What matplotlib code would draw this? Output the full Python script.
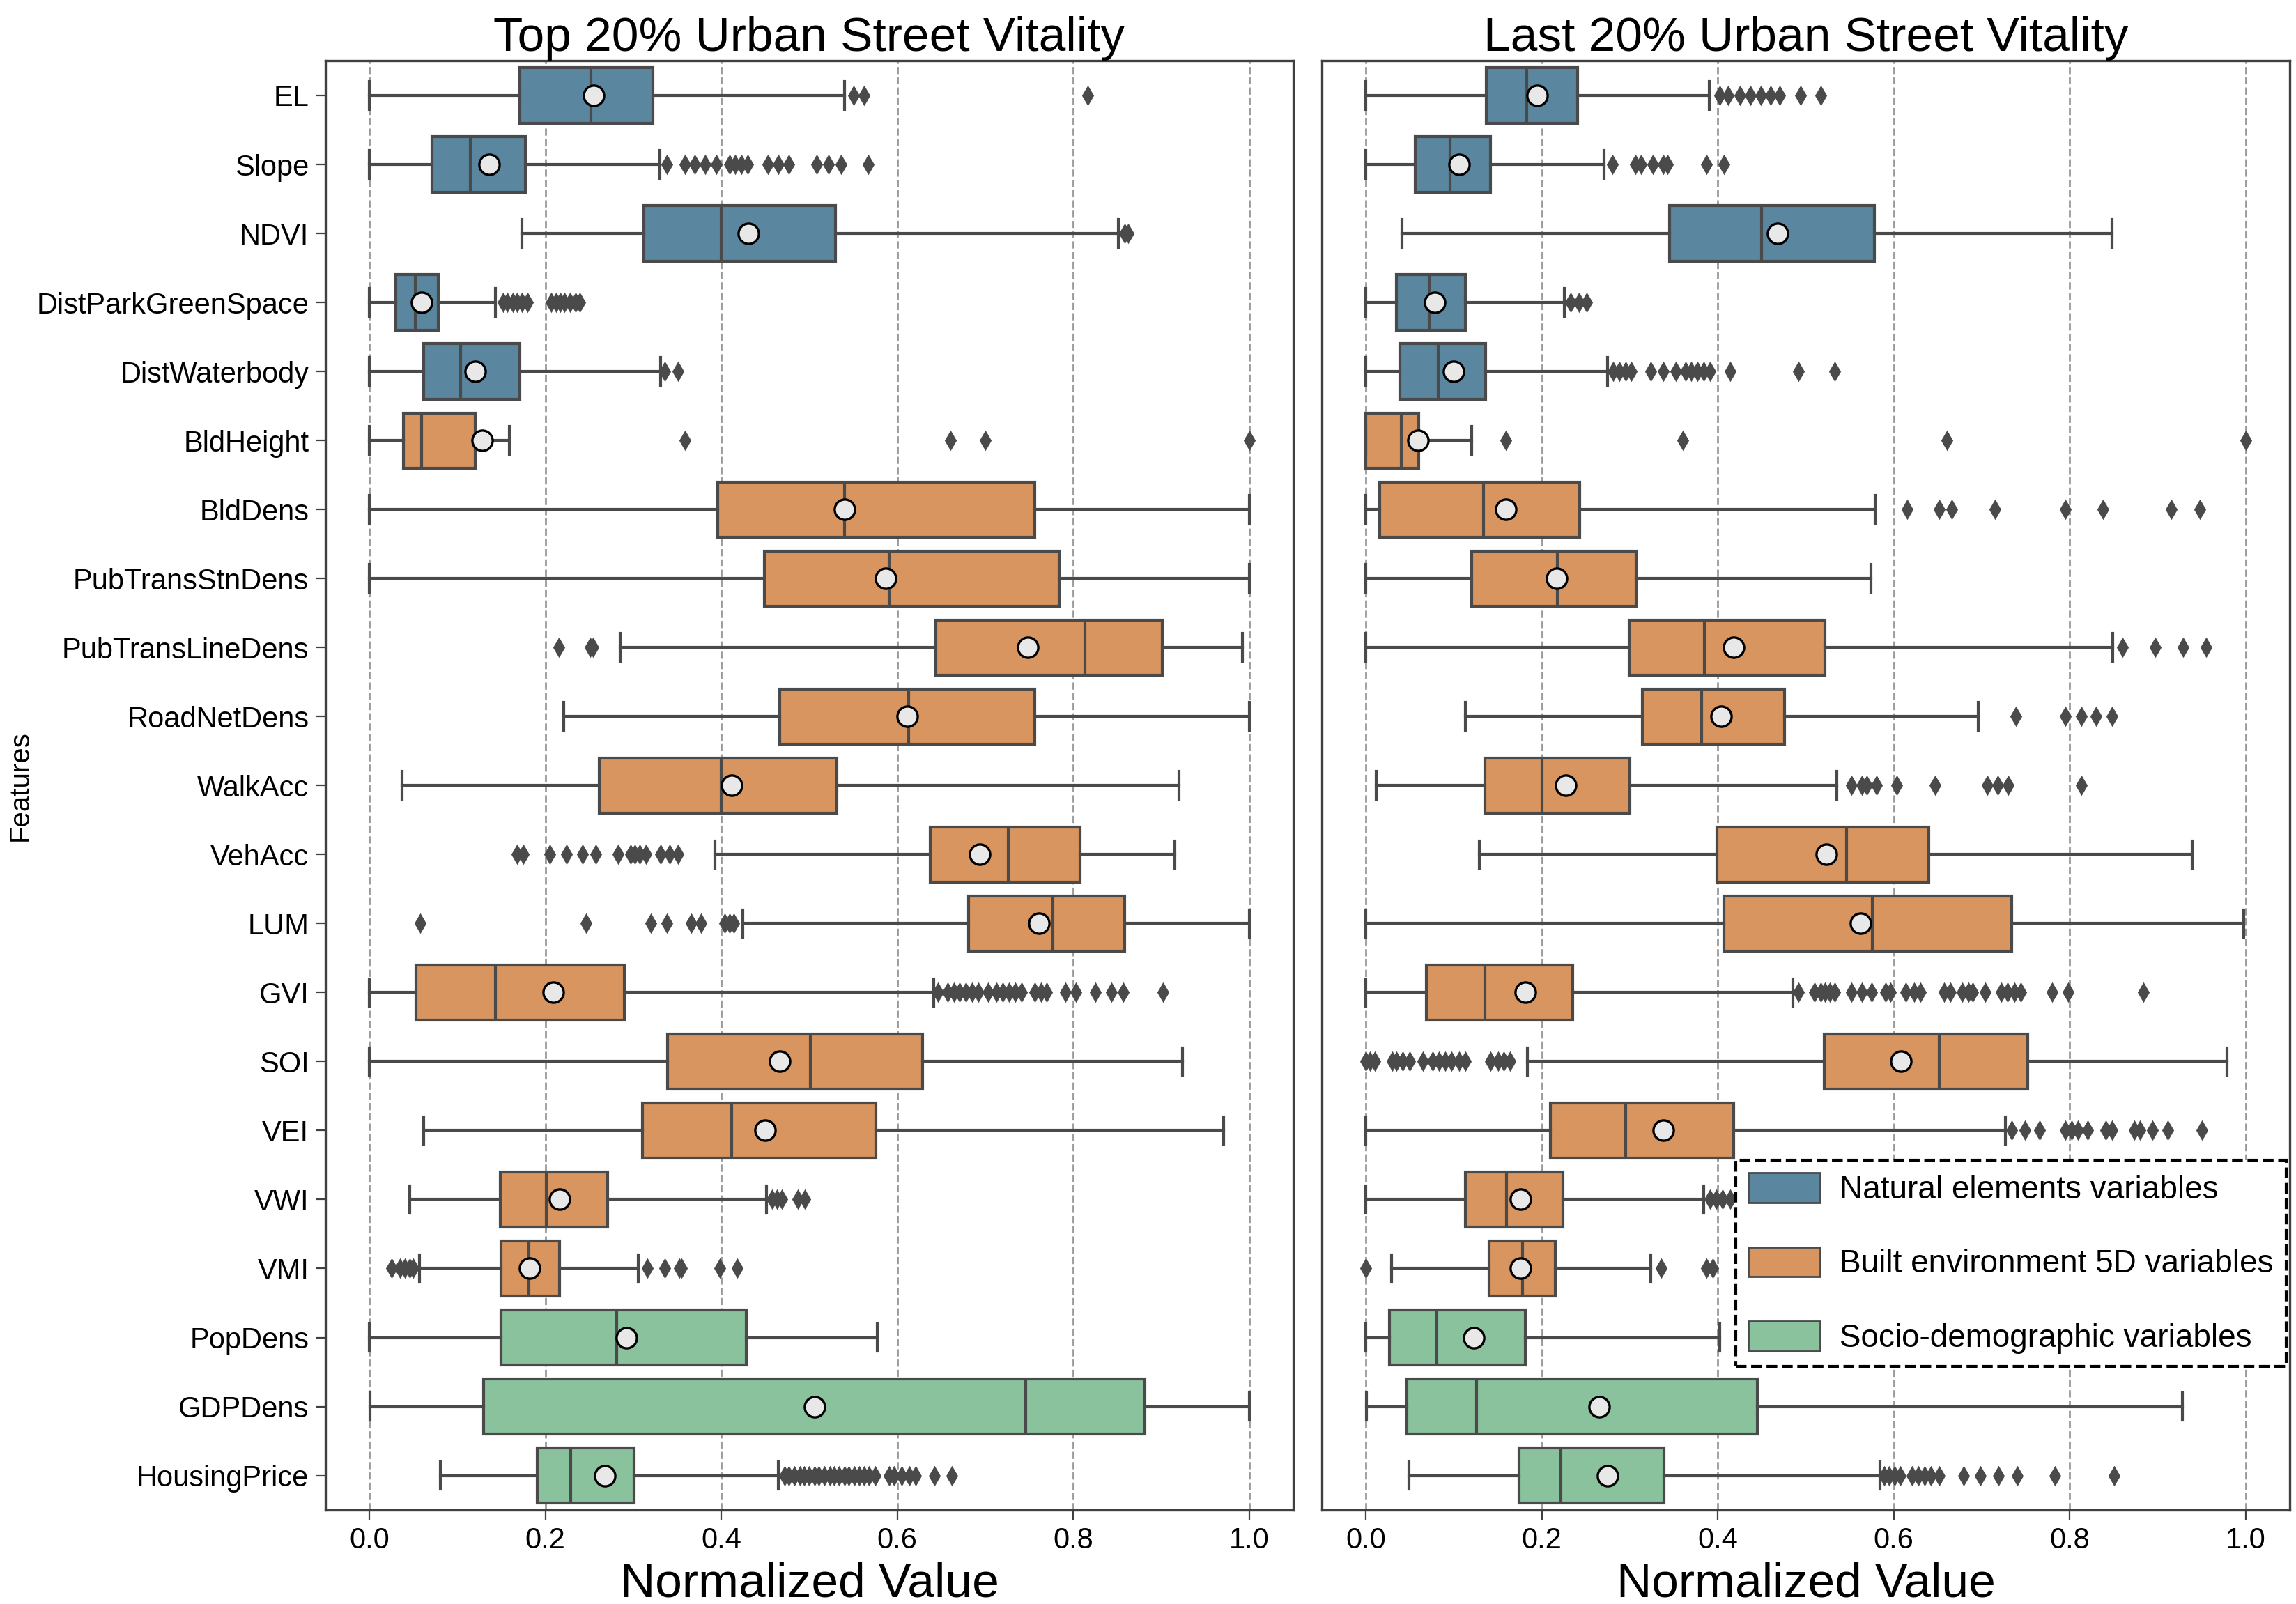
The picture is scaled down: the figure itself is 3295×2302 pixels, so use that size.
import matplotlib
matplotlib.use('Agg')
import matplotlib.pyplot as plt
from matplotlib.patches import Patch

plt.rcParams['font.family'] = ['Liberation Sans', 'DejaVu Sans']

features = ['EL', 'Slope', 'NDVI', 'DistParkGreenSpace', 'DistWaterbody',
            'BldHeight', 'BldDens', 'PubTransStnDens', 'PubTransLineDens',
            'RoadNetDens', 'WalkAcc', 'VehAcc', 'LUM', 'GVI', 'SOI', 'VEI',
            'VWI', 'VMI', 'PopDens', 'GDPDens', 'HousingPrice']
groups = ['natural'] * 5 + ['built'] * 13 + ['socio'] * 3

group_colors = {'natural': '#5a879f', 'built': '#d8955f', 'socio': '#8ac29e'}
group_labels = {'natural': 'Natural elements variables',
                'built': 'Built environment 5D variables',
                'socio': 'Socio-demographic variables'}

# Top 20% urban street vitality
top_whislo = [0.0, 0.0, 0.173, 0.0, 0.0, 0.0, 0.0, 0.0, 0.285, 0.221, 0.037,
              0.393, 0.424, 0.0, 0.0, 0.062, 0.046, 0.057, 0.0, 0.001, 0.081]
top_q1 = [0.171, 0.071, 0.312, 0.030, 0.062, 0.039, 0.396, 0.449, 0.644, 0.466, 0.261,
          0.637, 0.681, 0.053, 0.339, 0.310, 0.149, 0.150, 0.150, 0.130, 0.191]
top_med = [0.252, 0.115, 0.400, 0.052, 0.104, 0.059, 0.540, 0.591, 0.813, 0.613, 0.400,
           0.726, 0.777, 0.143, 0.501, 0.412, 0.201, 0.181, 0.281, 0.746, 0.229]
top_q3 = [0.322, 0.177, 0.530, 0.078, 0.171, 0.120, 0.756, 0.784, 0.901, 0.756, 0.531,
          0.808, 0.858, 0.290, 0.629, 0.576, 0.271, 0.216, 0.428, 0.881, 0.301]
top_whishi = [0.540, 0.330, 0.851, 0.143, 0.331, 0.159, 1.0, 1.0, 0.992, 1.0, 0.920,
              0.915, 1.0, 0.641, 0.924, 0.971, 0.451, 0.306, 0.577, 1.0, 0.465]
top_mean = [0.255, 0.136, 0.431, 0.059, 0.120, 0.128, 0.540, 0.587, 0.748, 0.611, 0.412,
            0.694, 0.761, 0.209, 0.466, 0.450, 0.216, 0.182, 0.292, 0.506, 0.268]
top_fliers = [
    [0.550, 0.562, 0.816],
    [0.338, 0.359, 0.370, 0.382, 0.394, 0.409, 0.416, 0.423, 0.430, 0.453, 0.465,
     0.477, 0.508, 0.522, 0.536, 0.567],
    [0.858, 0.862],
    [0.152, 0.157, 0.163, 0.168, 0.173, 0.180, 0.207, 0.212, 0.217, 0.222, 0.228,
     0.234, 0.239],
    [0.336, 0.351],
    [0.359, 0.660, 0.700, 1.0],
    [],
    [],
    [0.215, 0.251, 0.254],
    [],
    [],
    [0.168, 0.175, 0.205, 0.224, 0.242, 0.257, 0.283, 0.297, 0.302, 0.307, 0.314,
     0.331, 0.341, 0.351],
    [0.058, 0.246, 0.320, 0.338, 0.366, 0.377, 0.404, 0.409, 0.414],
    [0.646, 0.657, 0.664, 0.671, 0.678, 0.685, 0.692, 0.703, 0.713, 0.720, 0.727,
     0.734, 0.741, 0.756, 0.763, 0.770, 0.791, 0.803, 0.825, 0.843, 0.857, 0.902],
    [],
    [],
    [0.458, 0.463, 0.469, 0.487, 0.495],
    [0.025, 0.035, 0.040, 0.046, 0.050, 0.316, 0.336, 0.352, 0.355, 0.398, 0.418],
    [],
    [],
    [0.472, 0.477, 0.483, 0.489, 0.494, 0.500, 0.506, 0.511, 0.517, 0.523, 0.528,
     0.534, 0.540, 0.545, 0.551, 0.557, 0.562, 0.568, 0.575, 0.591, 0.596, 0.605,
     0.614, 0.621, 0.642, 0.662],
]

# Last 20% urban street vitality
last_whislo = [0.0, 0.0, 0.041, 0.0, 0.0, 0.0, 0.0, 0.0, 0.0, 0.113, 0.012,
               0.129, 0.0, 0.0, 0.184, 0.0, 0.0, 0.029, 0.0, 0.001, 0.049]
last_q1 = [0.137, 0.056, 0.345, 0.035, 0.039, 0.0, 0.016, 0.120, 0.299, 0.314, 0.135,
           0.399, 0.407, 0.069, 0.521, 0.210, 0.113, 0.140, 0.027, 0.047, 0.174]
last_med = [0.183, 0.096, 0.450, 0.072, 0.082, 0.040, 0.134, 0.218, 0.385, 0.382, 0.200,
            0.546, 0.576, 0.135, 0.652, 0.295, 0.160, 0.178, 0.081, 0.126, 0.222]
last_q3 = [0.241, 0.142, 0.578, 0.113, 0.136, 0.060, 0.243, 0.307, 0.522, 0.476, 0.300,
           0.640, 0.734, 0.235, 0.752, 0.418, 0.224, 0.215, 0.181, 0.445, 0.339]
last_whishi = [0.390, 0.271, 0.848, 0.226, 0.275, 0.120, 0.579, 0.574, 0.849, 0.696, 0.535,
               0.939, 0.998, 0.485, 0.979, 0.727, 0.384, 0.324, 0.402, 0.928, 0.584]
last_mean = [0.195, 0.106, 0.468, 0.078, 0.100, 0.059, 0.159, 0.217, 0.418, 0.404, 0.227,
             0.523, 0.562, 0.181, 0.608, 0.338, 0.176, 0.176, 0.123, 0.265, 0.275]
last_fliers = [
    [0.402, 0.412, 0.425, 0.437, 0.449, 0.460, 0.470, 0.494, 0.517],
    [0.280, 0.306, 0.313, 0.326, 0.338, 0.343, 0.387, 0.407],
    [],
    [0.233, 0.242, 0.251],
    [0.281, 0.288, 0.295, 0.302, 0.324, 0.338, 0.352, 0.363, 0.370, 0.377, 0.384,
     0.391, 0.414, 0.492, 0.533],
    [0.159, 0.360, 0.660, 1.0],
    [0.615, 0.652, 0.666, 0.715, 0.795, 0.838, 0.915, 0.948],
    [],
    [0.860, 0.897, 0.929, 0.955],
    [0.739, 0.795, 0.813, 0.830, 0.848],
    [0.552, 0.564, 0.569, 0.580, 0.603, 0.647, 0.706, 0.718, 0.730, 0.813],
    [],
    [],
    [0.492, 0.510, 0.517, 0.522, 0.527, 0.533, 0.552, 0.564, 0.575, 0.591, 0.596,
     0.614, 0.623, 0.630, 0.657, 0.664, 0.678, 0.685, 0.690, 0.704, 0.722, 0.729,
     0.737, 0.744, 0.780, 0.798, 0.884],
    [0.0, 0.005, 0.010, 0.030, 0.035, 0.042, 0.050, 0.065, 0.076, 0.083, 0.090,
     0.097, 0.106, 0.113, 0.142, 0.150, 0.157, 0.164],
    [0.734, 0.749, 0.766, 0.795, 0.802, 0.809, 0.820, 0.841, 0.848, 0.873, 0.880,
     0.894, 0.911, 0.950],
    [0.391, 0.398, 0.405, 0.414],
    [0.0, 0.336, 0.387, 0.394],
    [],
    [],
    [0.589, 0.595, 0.601, 0.607, 0.621, 0.628, 0.635, 0.642, 0.652, 0.679, 0.698,
     0.719, 0.740, 0.783, 0.850],
]

LINE_COLOR = '#4a4a4a'


def make_stats(whislo, q1, med, q3, whishi, mean, fliers):
    stats = []
    for i in range(len(features)):
        stats.append(dict(label=features[i], whislo=whislo[i], q1=q1[i], med=med[i],
                          q3=q3[i], whishi=whishi[i], mean=mean[i], fliers=fliers[i]))
    return stats


def draw_panel(ax, stats, title, show_labels):
    positions = list(range(len(stats)))
    bp = ax.bxp(stats, positions=positions, orientation='horizontal', widths=0.8,
                patch_artist=True, showmeans=True,
                boxprops=dict(edgecolor=LINE_COLOR, linewidth=1.5),
                whiskerprops=dict(color=LINE_COLOR, linewidth=1.5),
                capprops=dict(color=LINE_COLOR, linewidth=1.5),
                medianprops=dict(color=LINE_COLOR, linewidth=1.5),
                meanprops=dict(marker='o', markerfacecolor='#e8e8e8',
                               markeredgecolor='black', markersize=10.5,
                               markeredgewidth=1.2),
                flierprops=dict(marker='d', markerfacecolor=LINE_COLOR,
                                markeredgecolor=LINE_COLOR, markersize=6))
    for patch, g in zip(bp['boxes'], groups):
        patch.set_facecolor(group_colors[g])

    ax.set_xlim(-0.05, 1.05)
    ax.set_ylim(len(stats) - 0.5, -0.5)
    ax.set_xticks([0.0, 0.2, 0.4, 0.6, 0.8, 1.0])
    ax.set_xticklabels(['0.0', '0.2', '0.4', '0.6', '0.8', '1.0'])
    ax.grid(axis='x', linestyle='--', color='0.6', linewidth=1.0)
    ax.set_axisbelow(True)
    ax.tick_params(axis='x', labelsize=15, length=5, color='0.25')
    ax.set_yticks(positions)
    if show_labels:
        ax.set_yticklabels(features, fontsize=15)
        ax.tick_params(axis='y', length=5, color='0.25')
        ax.set_ylabel('Features', fontsize=14.5)
        ax.yaxis.set_label_coords(-0.302, 0.5)
    else:
        ax.set_yticklabels([])
        ax.tick_params(axis='y', left=False)
    for spine in ax.spines.values():
        spine.set_color('0.25')
        spine.set_linewidth(1.2)
    ax.set_title(title, fontsize=25, pad=5)
    ax.set_xlabel('Normalized Value', fontsize=25, labelpad=4)


fig = plt.figure(figsize=(16.475, 11.51), dpi=200)
ax1 = fig.add_axes([0.1417, 0.0586, 0.4216, 0.9034])
ax2 = fig.add_axes([0.5757, 0.0586, 0.4216, 0.9034])

draw_panel(ax1, make_stats(top_whislo, top_q1, top_med, top_q3, top_whishi,
                           top_mean, top_fliers),
           'Top 20% Urban Street Vitality', True)
draw_panel(ax2, make_stats(last_whislo, last_q1, last_med, last_q3, last_whishi,
                           last_mean, last_fliers),
           'Last 20% Urban Street Vitality', False)

handles = [Patch(facecolor=group_colors[k], edgecolor=LINE_COLOR, label=group_labels[k])
           for k in ['natural', 'built', 'socio']]
leg = ax2.legend(handles=handles, loc='lower right', bbox_to_anchor=(0.996, 0.099),
                 borderaxespad=0, fontsize=16.5, handlelength=2.25, handleheight=1.05,
                 labelspacing=1.3, handletextpad=0.6, borderpad=0.4,
                 fancybox=False, framealpha=1)
leg.get_frame().set_edgecolor('black')
leg.get_frame().set_linestyle('--')
leg.get_frame().set_linewidth(1.5)

fig.savefig('out.png', dpi=200)
